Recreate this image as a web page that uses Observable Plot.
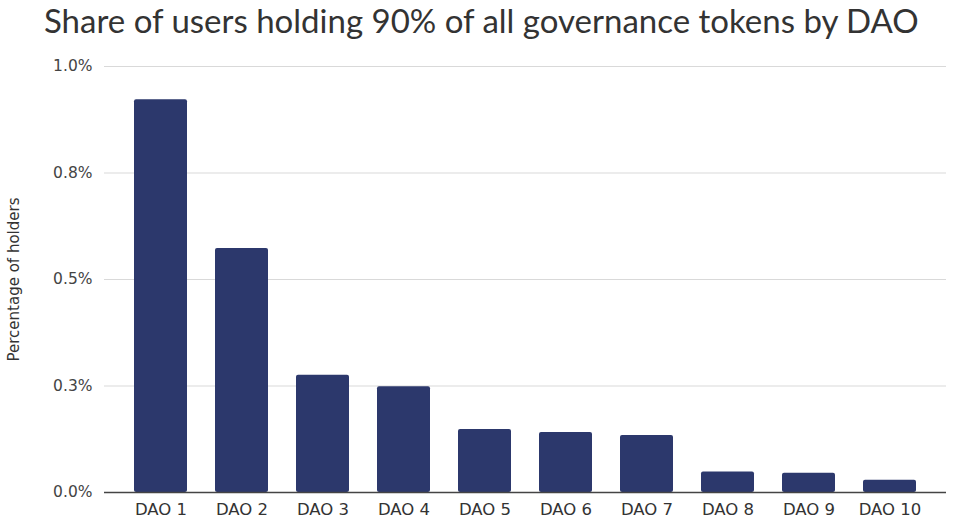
<!DOCTYPE html>
<html>
<head>
<meta charset="utf-8">
<script src="https://cdn.jsdelivr.net/npm/d3@7"></script>
<script src="https://cdn.jsdelivr.net/npm/@observablehq/plot@0.6"></script>
<style>
  body { margin: 0; background: #fff; }
  #wrap { width: 972px; height: 527px; position: relative; font-family: Lato, "Open Sans", sans-serif; }
  #title { position: absolute; left: 44px; top: 0px; font-size: 33px; line-height: normal; color: #333; white-space: nowrap; }
  #chart { position: absolute; left: 0; top: 0; }
</style>
</head>
<body>
<div id="wrap">
  <div id="chart"></div>
  <div id="title">Share of users holding 90% of all governance tokens by DAO</div>
</div>
<script>
const categories = ["DAO 1", "DAO 2", "DAO 3", "DAO 4", "DAO 5", "DAO 6", "DAO 7", "DAO 8", "DAO 9", "DAO 10"];
const shares = [0.922, 0.573, 0.275, 0.248, 0.148, 0.141, 0.134, 0.048, 0.045, 0.029];
const tickValues = [0, 0.25, 0.5, 0.75, 1.0];
const tickLabels = ["0.0%", "0.3%", "0.5%", "0.8%", "1.0%"];
const yLabel = "Percentage of holders";

const data = categories.map((c, i) => ({ dao: c, share: shares[i] }));

const chart = Plot.plot({
  width: 972,
  height: 527,
  marginTop: 66,
  marginBottom: 35,
  marginLeft: 104,
  marginRight: 26,
  style: { fontFamily: "'DejaVu Sans', Verdana, sans-serif", background: "transparent" },
  x: { domain: categories, padding: 0.35, label: null },
  y: { domain: [0, 1.0], label: null },
  marks: [
    Plot.gridY(tickValues, { stroke: "#d9d9d9", strokeOpacity: 1, strokeWidth: 1.2 }),
    Plot.barY(data, { x: "dao", y: "share", fill: "#2c386c", rx: 2 }),
    Plot.ruleY([0], { stroke: "#444", strokeWidth: 1.3 }),
    Plot.axisY(tickValues, {
      tickSize: 0, tickPadding: 12,
      tickFormat: (d, i) => tickLabels[i],
      fontSize: 15.5, fill: "#444", label: null
    }),
    Plot.axisX({ tickSize: 0, tickPadding: 11, fontSize: 16.5, fill: "#333", label: null }),
    Plot.text([yLabel], {
      frameAnchor: "left", textAnchor: "middle", dx: -90, rotate: -90, fontSize: 15, fill: "#333"
    })
  ]
});
document.getElementById("chart").appendChild(chart);
</script>
</body>
</html>
